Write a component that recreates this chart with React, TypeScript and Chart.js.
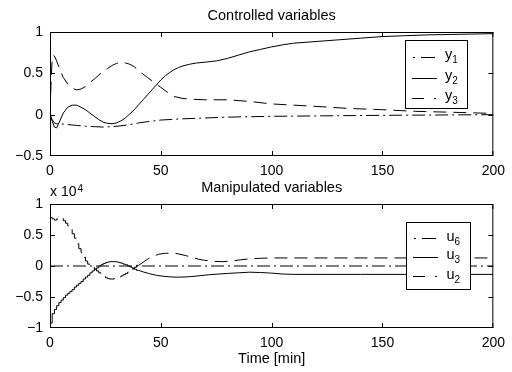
import React, { useEffect, useRef } from 'react';
import { Chart, registerables } from 'chart.js';

Chart.register(...registerables);

const FONT = '"Liberation Sans", Arial, Helvetica, sans-serif';

// ---------------- Controlled variables (top) ----------------
const topTitle = 'Controlled variables';
const topXTicks = [0, 50, 100, 150, 200];
const topYTicks = [-0.5, 0, 0.5, 1];

const timeY1 = [0, 1, 2, 3, 4, 6, 8, 12, 16, 20, 24, 28, 32, 36, 40, 44, 50, 60, 70, 80, 100, 120, 150, 200];
const valuesY1 = [0, -0.06, -0.1, -0.11, -0.11, -0.115, -0.12, -0.13, -0.14, -0.145, -0.15, -0.145, -0.135, -0.12, -0.1, -0.085, -0.065, -0.05, -0.04, -0.03, -0.02, -0.015, -0.008, 0];

const timeY2 = [0, 1, 2, 3, 4, 6, 8, 10, 12, 14, 16, 18, 20, 22, 24, 26, 28, 30, 32, 34, 36, 38, 40, 42, 44, 46, 48, 50, 52, 54, 56, 58, 60, 63, 66, 70, 75, 80, 85, 90, 95, 100, 105, 110, 115, 120, 130, 140, 150, 160, 170, 180, 190, 200];
const valuesY2 = [0, -0.08, -0.15, -0.16, -0.1, 0.02, 0.09, 0.115, 0.115, 0.09, 0.06, 0.02, -0.02, -0.06, -0.09, -0.105, -0.11, -0.1, -0.075, -0.04, 0.01, 0.06, 0.12, 0.18, 0.24, 0.3, 0.36, 0.42, 0.47, 0.51, 0.545, 0.57, 0.59, 0.61, 0.625, 0.635, 0.65, 0.68, 0.72, 0.76, 0.79, 0.82, 0.845, 0.865, 0.875, 0.885, 0.905, 0.925, 0.945, 0.955, 0.965, 0.97, 0.975, 0.98];

const timeY3 = [0, 0.5, 1, 1.5, 2, 3, 4, 5, 6, 8, 10, 12, 14, 16, 18, 20, 22, 24, 26, 28, 30, 32, 34, 36, 38, 40, 42, 44, 46, 48, 50, 53, 56, 60, 65, 70, 80, 90, 100, 110, 120, 135, 150, 165, 180, 200];
const valuesY3 = [0, 0.4, 0.68, 0.72, 0.71, 0.65, 0.58, 0.51, 0.45, 0.37, 0.32, 0.3, 0.31, 0.34, 0.39, 0.43, 0.48, 0.52, 0.56, 0.595, 0.62, 0.63, 0.625, 0.61, 0.58, 0.53, 0.49, 0.45, 0.41, 0.37, 0.33, 0.27, 0.22, 0.195, 0.185, 0.18, 0.18, 0.16, 0.13, 0.115, 0.1, 0.075, 0.06, 0.04, 0.03, 0.015];

const topLegendLabels = ['y', 'y', 'y'];
const topLegendSubs = ['1', '2', '3'];

// ---------------- Manipulated variables (bottom), scaled by 1e4 ----------------
const bottomTitle = 'Manipulated variables';
const bottomXLabel = 'Time [min]';
const bottomXTicks = [0, 50, 100, 150, 200];
const bottomYTicks = [-1, -0.5, 0, 0.5, 1];

const timeU6 = [0, 200];
const valuesU6 = [0, 0];

// sampled (stairs) part, 1-min samples
const timeStairs = [0, 1, 2, 3, 4, 5, 6, 7, 8, 9, 10, 11, 12, 13, 14, 15, 16, 17, 18, 19, 20, 21, 22, 23, 24, 25, 26, 27, 28, 29, 30, 31, 32, 33, 34, 35, 36, 37, 38, 39, 40];
const valuesU3Stairs = [-0.92, -0.92, -0.77, -0.7, -0.64, -0.59, -0.55, -0.51, -0.47, -0.44, -0.41, -0.38, -0.34, -0.31, -0.28, -0.25, -0.21, -0.18, -0.15, -0.11, -0.08, -0.05, -0.03, 0, 0.02, 0.04, 0.055, 0.065, 0.07, 0.07, 0.07, 0.065, 0.055, 0.045, 0.03, 0.02, 0, -0.015, -0.035, -0.05, -0.07];
const valuesU2Stairs = [0.8, 0.78, 0.76, 0.74, 0.76, 0.78, 0.77, 0.73, 0.69, 0.65, 0.6, 0.52, 0.45, 0.36, 0.28, 0.22, 0.14, 0.08, 0.03, 0, -0.02, -0.05, -0.08, -0.11, -0.14, -0.17, -0.19, -0.205, -0.21, -0.21, -0.2, -0.19, -0.175, -0.16, -0.14, -0.12, -0.1, -0.08, -0.05, -0.02, 0.01];

const timeU3Tail = [40, 42, 45, 48, 51, 54, 57, 60, 64, 68, 72, 76, 80, 85, 90, 95, 100, 105, 110, 120, 140, 160, 200];
const valuesU3Tail = [-0.07, -0.095, -0.125, -0.15, -0.165, -0.175, -0.18, -0.178, -0.17, -0.155, -0.14, -0.13, -0.12, -0.11, -0.1, -0.105, -0.115, -0.13, -0.135, -0.135, -0.135, -0.135, -0.135];

const timeU2Tail = [40, 42, 44, 46, 49, 52, 55, 58, 61, 64, 67, 70, 74, 78, 82, 86, 90, 95, 100, 120, 150, 200];
const valuesU2Tail = [0.01, 0.06, 0.11, 0.15, 0.19, 0.205, 0.21, 0.195, 0.17, 0.14, 0.11, 0.09, 0.075, 0.07, 0.08, 0.1, 0.115, 0.125, 0.13, 0.13, 0.13, 0.13];

const bottomLegendLabels = ['u', 'u', 'u'];
const bottomLegendSubs = ['6', '3', '2'];

// ---------------- styles ----------------
const DASH = [13, 7];
const DASHDOT = [13, 4, 2, 4];

const pts = (t: number[], v: number[]) => t.map((x, i) => ({ x, y: v[i] }));
const fmt = (v: number | string) => String(v).replace('-', '\u2212');

type LegendStyle = 'dotdash' | 'solid' | 'dashdot';

interface DecorCfg {
  id: string;
  title: string;
  titleBaseline: number;
  xTicks: number[];
  yTicks: number[];
  legend: { x: number; y: number; w: number; h: number; rows: number[]; sx0: number; sx1: number; tx: number; labels: string[]; subs: string[]; styles: LegendStyle[] };
  extra?: (ctx: CanvasRenderingContext2D, area: any) => void;
}

function makeDecor(cfg: DecorCfg) {
  return {
    id: cfg.id,
    afterDatasetsDraw(chart: any) {
      const { ctx, chartArea: a, scales } = chart;
      ctx.save();
      ctx.strokeStyle = '#000';
      ctx.fillStyle = '#000';
      ctx.lineWidth = 1;
      ctx.setLineDash([]);
      // frame
      ctx.strokeRect(a.left + 0.5, a.top + 0.5, a.right - a.left - 1, a.bottom - a.top - 1);
      // inward ticks
      const TL = 5;
      ctx.beginPath();
      cfg.xTicks.forEach((v) => {
        let px = Math.round(scales.x.getPixelForValue(v)) + 0.5;
        if (px > a.right - 0.5) px = a.right - 0.5;
        ctx.moveTo(px, a.bottom);
        ctx.lineTo(px, a.bottom - TL);
        ctx.moveTo(px, a.top);
        ctx.lineTo(px, a.top + TL);
      });
      cfg.yTicks.forEach((v) => {
        let py = Math.round(scales.y.getPixelForValue(v)) + 0.5;
        if (py > a.bottom - 0.5) py = a.bottom - 0.5;
        ctx.moveTo(a.left, py);
        ctx.lineTo(a.left + TL, py);
        ctx.moveTo(a.right, py);
        ctx.lineTo(a.right - TL, py);
      });
      ctx.stroke();

      // title
      ctx.font = `14.5px ${FONT}`;
      ctx.textAlign = 'center';
      ctx.textBaseline = 'alphabetic';
      ctx.fillText(cfg.title, (a.left + a.right) / 2, cfg.titleBaseline);

      // legend
      const L = cfg.legend;
      ctx.fillStyle = '#fff';
      ctx.fillRect(L.x, L.y, L.w, L.h);
      ctx.strokeStyle = '#000';
      ctx.strokeRect(L.x + 0.5, L.y + 0.5, L.w - 1, L.h - 1);
      ctx.fillStyle = '#000';
      L.rows.forEach((ry, i) => {
        const y = Math.round(ry) + 0.5;
        const s = L.styles[i];
        ctx.beginPath();
        if (s === 'solid') {
          ctx.moveTo(L.sx0, y);
          ctx.lineTo(L.sx1, y);
        } else if (s === 'dotdash') {
          ctx.moveTo(L.sx0 + 1, y);
          ctx.lineTo(L.sx0 + 3, y);
          ctx.moveTo(L.sx0 + 9, y);
          ctx.lineTo(L.sx1 - 2, y);
        } else {
          ctx.moveTo(L.sx0, y);
          ctx.lineTo(L.sx0 + 12, y);
          ctx.moveTo(L.sx1 - 3, y);
          ctx.lineTo(L.sx1 - 1, y);
        }
        ctx.stroke();
        ctx.textAlign = 'left';
        ctx.font = `14.5px ${FONT}`;
        ctx.fillText(L.labels[i], L.tx, ry + 2.5);
        const w = ctx.measureText(L.labels[i]).width;
        ctx.font = `10px ${FONT}`;
        ctx.fillText(L.subs[i], L.tx + w, ry + 6.5);
      });

      if (cfg.extra) cfg.extra(ctx, a);
      ctx.restore();
    },
  };
}

function baseOptions(xTicks: number[], yMin: number, yMax: number, leftW: number, bottomH: number, padTop: number) {
  return {
    responsive: false,
    animation: false as const,
    devicePixelRatio: 1,
    layout: { padding: { top: padTop, right: 16, left: 0, bottom: 0 } },
    plugins: { legend: { display: false }, title: { display: false }, tooltip: { enabled: false } },
    elements: { point: { radius: 0 }, line: { borderWidth: 1, tension: 0 } },
    scales: {
      x: {
        type: 'linear' as const,
        min: 0,
        max: 200,
        afterBuildTicks: (s: any) => { s.ticks = xTicks.map((v) => ({ value: v })); },
        afterFit: (s: any) => { s.height = bottomH; },
        grid: { display: false, drawTicks: false, tickLength: 0 },
        border: { display: false },
        ticks: { color: '#000', font: { family: FONT, size: 14 }, padding: 7, maxRotation: 0, autoSkip: false, callback: (v: any) => fmt(v) },
      },
      y: {
        type: 'linear' as const,
        min: yMin,
        max: yMax,
        afterFit: (s: any) => { s.width = leftW; },
        grid: { display: false, drawTicks: false, tickLength: 0 },
        border: { display: false },
        ticks: { color: '#000', font: { family: FONT, size: 14 }, padding: 7, stepSize: 0.5, autoSkip: false, callback: (v: any) => fmt(v) },
      },
    },
  };
}

function TopChart() {
  const ref = useRef<HTMLCanvasElement>(null);
  useEffect(() => {
    if (!ref.current) return;
    const chart = new Chart(ref.current, {
      type: 'line',
      data: {
        datasets: [
          { data: pts(timeY1, valuesY1), borderColor: '#000', borderDash: DASHDOT },
          { data: pts(timeY2, valuesY2), borderColor: '#000' },
          { data: pts(timeY3, valuesY3), borderColor: '#000', borderDash: DASH },
        ],
      },
      options: baseOptions(topXTicks, -0.5, 1, 50, 24, 32) as any,
      plugins: [
        makeDecor({
          id: 'decorTop',
          title: topTitle,
          titleBaseline: 20,
          xTicks: topXTicks,
          yTicks: topYTicks,
          legend: { x: 405, y: 40, w: 63, h: 69, rows: [56.7, 77.5, 97.7], sx0: 412, sx1: 437, tx: 445, labels: topLegendLabels, subs: topLegendSubs, styles: ['dotdash', 'solid', 'dashdot'] },
        }),
      ],
    });
    return () => chart.destroy();
  }, []);
  return <canvas ref={ref} width={512} height={180} style={{ display: 'block', width: 512, height: 180 }} />;
}

function BottomChart() {
  const ref = useRef<HTMLCanvasElement>(null);
  useEffect(() => {
    if (!ref.current) return;
    const chart = new Chart(ref.current, {
      type: 'line',
      data: {
        datasets: [
          { data: pts(timeU6, valuesU6), borderColor: '#000', borderDash: DASHDOT },
          { data: pts(timeStairs, valuesU3Stairs), borderColor: '#000', stepped: 'after' },
          { data: pts(timeU3Tail, valuesU3Tail), borderColor: '#000' },
          { data: pts(timeStairs, valuesU2Stairs), borderColor: '#000', borderDash: DASH, stepped: 'after' },
          { data: pts(timeU2Tail, valuesU2Tail), borderColor: '#000', borderDash: DASH },
        ],
      },
      options: baseOptions(bottomXTicks, -1, 1, 50, 44, 24) as any,
      plugins: [
        makeDecor({
          id: 'decorBottom',
          title: bottomTitle,
          titleBaseline: 11.7,
          xTicks: bottomXTicks,
          yTicks: bottomYTicks,
          legend: { x: 406, y: 42, w: 65, h: 68, rows: [58.3, 76.7, 96], sx0: 413, sx1: 438, tx: 446.5, labels: bottomLegendLabels, subs: bottomLegendSubs, styles: ['dotdash', 'solid', 'dashdot'] },
          extra: (ctx, a) => {
            ctx.textAlign = 'left';
            ctx.font = `14px ${FONT}`;
            ctx.fillText('x 10', 50, 15.7);
            const w = ctx.measureText('x 10').width;
            ctx.font = `10px ${FONT}`;
            ctx.fillText('4', 50 + w + 1, 11.5);
            ctx.textAlign = 'center';
            ctx.font = `14.5px ${FONT}`;
            ctx.fillText(bottomXLabel, (a.left + a.right) / 2, 183);
          },
        }),
      ],
    });
    return () => chart.destroy();
  }, []);
  return <canvas ref={ref} width={512} height={192} style={{ display: 'block', width: 512, height: 192 }} />;
}

export default function App() {
  return (
    <div style={{ position: 'absolute', left: 0, top: 0, width: 512, height: 372, background: '#fff' }}>
      <TopChart />
      <BottomChart />
    </div>
  );
}
